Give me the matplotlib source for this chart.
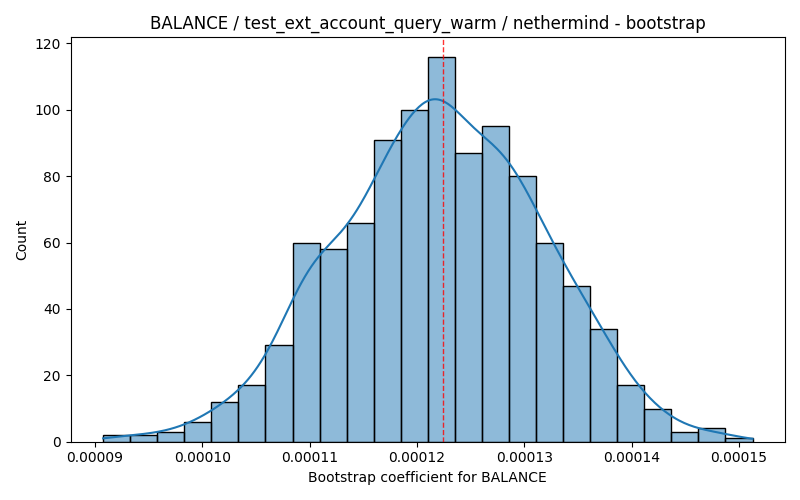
import numpy as np
import matplotlib
matplotlib.use("Agg")
import matplotlib.pyplot as plt

# Histogram data
bin_left = 0.000090763
bin_right = 0.00015126
counts = [2, 2, 3, 6, 12, 17, 29, 60, 58, 66, 91, 100, 116, 87, 95, 80, 60, 47, 34, 17, 10, 3, 4, 1]
mean_value = 0.0001224

title = "BALANCE / test_ext_account_query_warm / nethermind - bootstrap"
xlabel = "Bootstrap coefficient for BALANCE"
ylabel = "Count"

counts_arr = np.array(counts, dtype=float)
nb = len(counts)
edges = np.linspace(bin_left, bin_right, nb + 1)
width = edges[1] - edges[0]
centers = 0.5 * (edges[:-1] + edges[1:])

fig, ax = plt.subplots(figsize=(8, 5), dpi=100)

base = matplotlib.colors.to_rgba("C0")
ax.bar(edges[:-1], counts_arr, width=width, align="edge",
       facecolor=(base[0], base[1], base[2], 0.5), edgecolor="black", linewidth=1)

# KDE computed from the binned sample (Scott's rule), scaled to counts
n = counts_arr.sum()
mu = np.sum(centers * counts_arr) / n
sd = np.sqrt(np.sum(counts_arr * (centers - mu) ** 2) / (n - 1))
bw = sd * n ** (-1 / 5)
grid = np.linspace(bin_left, bin_right, 400)
dens = np.zeros_like(grid)
for c, k in zip(centers, counts_arr):
    dens += k * np.exp(-0.5 * ((grid - c) / bw) ** 2) / (bw * np.sqrt(2 * np.pi))
dens /= n
ax.plot(grid, dens * n * width, color="C0", linewidth=1.5)

ax.axvline(mean_value, color="red", linestyle="--", linewidth=1, alpha=0.8)

ax.set_title(title)
ax.set_xlabel(xlabel)
ax.set_ylabel(ylabel)

fig.tight_layout()
fig.savefig("out.png", dpi=100)
